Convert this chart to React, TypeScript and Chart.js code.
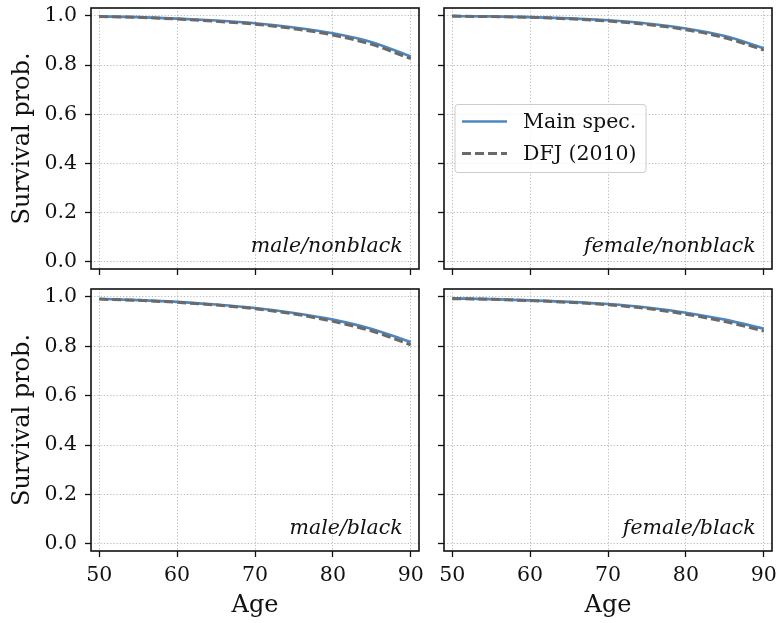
import React, { useEffect, useRef } from "react";
import { Chart, registerables } from "chart.js";

Chart.register(...registerables);

// ---------- data ----------
const AGES = [50, 55, 60, 65, 70, 75, 80, 85, 90];
const X_TICKS = [50, 60, 70, 80, 90];
const Y_TICKS = [0, 0.2, 0.4, 0.6, 0.8, 1.0];
const SERIES_LABELS = ["Main spec.", "DFJ (2010)"];
const PANEL_TITLES = ["male/nonblack", "female/nonblack", "male/black", "female/black"];
const Y_LABEL = "Survival prob.";
const X_LABEL = "Age";

const MALE_NONBLACK_MAIN = [0.998, 0.995, 0.989, 0.981, 0.970, 0.953, 0.929, 0.893, 0.835];
const MALE_NONBLACK_DFJ = [0.997, 0.994, 0.987, 0.978, 0.966, 0.948, 0.922, 0.884, 0.826];
const FEMALE_NONBLACK_MAIN = [0.999, 0.998, 0.995, 0.990, 0.982, 0.969, 0.949, 0.918, 0.869];
const FEMALE_NONBLACK_DFJ = [0.999, 0.997, 0.994, 0.988, 0.979, 0.965, 0.944, 0.911, 0.861];
const MALE_BLACK_MAIN = [0.992, 0.987, 0.980, 0.969, 0.955, 0.935, 0.908, 0.870, 0.817];
const MALE_BLACK_DFJ = [0.991, 0.986, 0.978, 0.967, 0.952, 0.931, 0.901, 0.862, 0.806];
const FEMALE_BLACK_MAIN = [0.994, 0.991, 0.986, 0.980, 0.971, 0.957, 0.936, 0.908, 0.871];
const FEMALE_BLACK_DFJ = [0.993, 0.990, 0.985, 0.978, 0.968, 0.953, 0.930, 0.900, 0.862];

// ---------- styles ----------
const FAMILY = '"DejaVu Serif", serif';
const BLUE = "#4d87c0";
const GRAY = "#6a6a6a";
const GRID = "#b0b0b0";
const TICK_SIZE = 20.5;
const LABEL_SIZE = 24;

type PanelProps = {
  left: number;
  top: number;
  width: number;
  height: number;
  yAxisWidth: number;
  xAxisHeight: number;
  padRight: number;
  showYLabels: boolean;
  showXLabels: boolean;
  showLegend: boolean;
  title: string;
  main: number[];
  dfj: number[];
};

function Panel(p: PanelProps) {
  const ref = useRef<HTMLCanvasElement | null>(null);

  useEffect(() => {
    if (!ref.current) return;

    const framePlugin = {
      id: "frameAndNotes",
      afterDraw(chart: any) {
        const { ctx, chartArea: a } = chart;
        ctx.save();
        // frame
        ctx.strokeStyle = "#111";
        ctx.lineWidth = 1.6;
        ctx.setLineDash([]);
        ctx.strokeRect(a.left, a.top, a.right - a.left, a.bottom - a.top);
        // panel annotation
        const w = a.right - a.left;
        const h = a.bottom - a.top;
        ctx.fillStyle = "#111";
        ctx.font = `italic ${TICK_SIZE}px ${FAMILY}`;
        ctx.textAlign = "right";
        ctx.textBaseline = "alphabetic";
        ctx.fillText(p.title, a.right - 0.05 * w, a.bottom - 0.05 * h - 4);
        // legend
        if (p.showLegend) {
          const bw = 191;
          const bh = 68;
          const bx = a.left + 11;
          const by = (a.top + a.bottom) / 2 - bh / 2;
          ctx.fillStyle = "rgba(255,255,255,0.8)";
          ctx.strokeStyle = "#cccccc";
          ctx.lineWidth = 1;
          ctx.beginPath();
          if ((ctx as any).roundRect) (ctx as any).roundRect(bx, by, bw, bh, 3);
          else ctx.rect(bx, by, bw, bh);
          ctx.fill();
          ctx.stroke();
          chart.data.datasets.forEach((ds: any, i: number) => {
            const y = by + 17 + i * 32;
            ctx.strokeStyle = ds.borderColor;
            ctx.lineWidth = ds.borderWidth;
            ctx.setLineDash(ds.borderDash || []);
            ctx.beginPath();
            ctx.moveTo(bx + 7, y);
            ctx.lineTo(bx + 52, y);
            ctx.stroke();
            ctx.setLineDash([]);
            ctx.fillStyle = "#111";
            ctx.font = `${TICK_SIZE}px ${FAMILY}`;
            ctx.textAlign = "left";
            ctx.textBaseline = "middle";
            ctx.fillText(ds.label, bx + 68, y + 1);
          });
        }
        ctx.restore();
      },
    };

    const gridOpts = {
      color: GRID,
      lineWidth: 0.9,
      drawTicks: true,
      tickLength: 6,
      tickColor: "#111",
      tickWidth: 1.3,
      tickBorderDash: [],
    };

    const chart = new Chart(ref.current, {
      type: "line",
      data: {
        datasets: [
          {
            label: SERIES_LABELS[0],
            data: AGES.map((a, i) => ({ x: a, y: p.main[i] })),
            borderColor: BLUE,
            borderWidth: 2.6,
            pointRadius: 0,
            cubicInterpolationMode: "monotone",
            fill: false,
            order: 1,
          },
          {
            label: SERIES_LABELS[1],
            data: AGES.map((a, i) => ({ x: a, y: p.dfj[i] })),
            borderColor: GRAY,
            borderWidth: 3,
            borderDash: [9, 4],
            pointRadius: 0,
            cubicInterpolationMode: "monotone",
            fill: false,
            order: 0,
          },
        ],
      },
      options: {
        animation: false,
        responsive: false,
        devicePixelRatio: 1,
        layout: { padding: { left: 0, right: p.padRight, top: 8, bottom: 0 } },
        plugins: {
          legend: { display: false },
          tooltip: { enabled: false },
        },
        scales: {
          x: {
            type: "linear",
            min: 48.95,
            max: 91.05,
            afterBuildTicks: (s: any) => {
              s.ticks = X_TICKS.map((v) => ({ value: v }));
            },
            afterFit: (s: any) => {
              s.height = p.xAxisHeight;
              s.paddingLeft = 0;
              s.paddingRight = 0;
              s.paddingTop = 0;
              s.paddingBottom = 0;
            },
            grid: gridOpts,
            border: { display: false, dash: [1.2, 2] },
            ticks: {
              display: p.showXLabels,
              color: "#111",
              padding: 6,
              maxRotation: 0,
              font: { family: FAMILY, size: TICK_SIZE },
              callback: (v: any) => String(Math.round(Number(v))),
            },
            title: {
              display: p.showXLabels,
              text: X_LABEL,
              color: "#111",
              font: { family: FAMILY, size: LABEL_SIZE },
              padding: { top: 0, bottom: 3 },
            },
          },
          y: {
            type: "linear",
            min: -0.029,
            max: 1.032,
            afterBuildTicks: (s: any) => {
              s.ticks = Y_TICKS.map((v) => ({ value: v }));
            },
            afterFit: (s: any) => {
              s.width = p.yAxisWidth;
              s.paddingLeft = 0;
              s.paddingRight = 0;
              s.paddingTop = 0;
              s.paddingBottom = 0;
            },
            grid: gridOpts,
            border: { display: false, dash: [1.2, 2] },
            ticks: {
              display: p.showYLabels,
              color: "#111",
              padding: 8,
              font: { family: FAMILY, size: TICK_SIZE },
              callback: (v: any) => Number(v).toFixed(1),
            },
            title: {
              display: p.showYLabels,
              text: Y_LABEL,
              color: "#111",
              font: { family: FAMILY, size: LABEL_SIZE },
              padding: { top: 8, bottom: 0 },
            },
          },
        },
      } as any,
      plugins: [framePlugin],
    } as any);

    return () => chart.destroy();
  }, []);

  return (
    <canvas
      ref={ref}
      width={p.width}
      height={p.height}
      style={{ position: "absolute", left: p.left, top: p.top, width: p.width, height: p.height }}
    />
  );
}

export default function App() {
  return (
    <div style={{ position: "absolute", left: 0, top: 0, width: 780, height: 623, background: "#fff" }}>
      <Panel left={0} top={0} width={425} height={281} yAxisWidth={91} xAxisHeight={12} padRight={6}
        showYLabels={true} showXLabels={false} showLegend={false}
        title={PANEL_TITLES[0]} main={MALE_NONBLACK_MAIN} dfj={MALE_NONBLACK_DFJ} />
      <Panel left={400} top={0} width={380} height={281} yAxisWidth={44} xAxisHeight={12} padRight={8}
        showYLabels={false} showXLabels={false} showLegend={true}
        title={PANEL_TITLES[1]} main={FEMALE_NONBLACK_MAIN} dfj={FEMALE_NONBLACK_DFJ} />
      <Panel left={0} top={281} width={425} height={342} yAxisWidth={91} xAxisHeight={72} padRight={6}
        showYLabels={true} showXLabels={true} showLegend={false}
        title={PANEL_TITLES[2]} main={MALE_BLACK_MAIN} dfj={MALE_BLACK_DFJ} />
      <Panel left={400} top={281} width={380} height={342} yAxisWidth={44} xAxisHeight={72} padRight={8}
        showYLabels={false} showXLabels={true} showLegend={false}
        title={PANEL_TITLES[3]} main={FEMALE_BLACK_MAIN} dfj={FEMALE_BLACK_DFJ} />
    </div>
  );
}
